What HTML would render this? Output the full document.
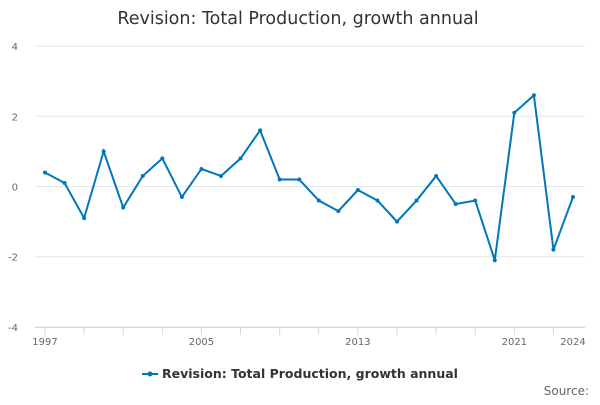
<!DOCTYPE html>
<html><head><meta charset="utf-8"><style>
body{margin:0;background:#fff;}
svg text{font-family:"DejaVu Sans","Liberation Sans",sans-serif;}
</style></head><body>
<svg id="c" width="600" height="400">
<text x="298" y="24" text-anchor="middle" font-size="17.5" fill="#333">Revision: Total Production, growth annual</text>
<g id="grid"></g><g id="xax"></g><g id="plot"></g>
<g>
<line x1="142" y1="374" x2="158" y2="374" stroke="#0077bb" stroke-width="2"/>
<circle cx="150" cy="374" r="2.5" fill="#0077bb"/>
<text x="162" y="378" font-size="12.5" font-weight="bold" fill="#333">Revision: Total Production, growth annual</text>
</g>
<text x="589" y="395" text-anchor="end" font-size="12" fill="#666">Source:</text>
</svg>
<script>
const years=[1997,1998,1999,2000,2001,2002,2003,2004,2005,2006,2007,2008,2009,2010,2011,2012,2013,2014,2015,2016,2017,2018,2019,2020,2021,2022,2023,2024];
const values=[0.4,0.1,-0.9,1.0,-0.6,0.3,0.8,-0.3,0.5,0.3,0.8,1.6,0.2,0.2,-0.4,-0.7,-0.1,-0.4,-1.0,-0.4,0.3,-0.5,-0.4,-2.1,2.1,2.6,-1.8,-0.3];
const yTicks=[-4,-2,0,2,4];
const xLabels=[1997,2005,2013,2021,2024];
const NS="http://www.w3.org/2000/svg";
const x=v=>45+(v-1997)*(528/27);
const y=v=>186.5-v*35.1;
function mk(t,a,p){const e=document.createElementNS(NS,t);for(const k in a)e.setAttribute(k,a[k]);p.appendChild(e);return e;}
const g=document.getElementById('grid'),xa=document.getElementById('xax'),pl=document.getElementById('plot');
yTicks.forEach(t=>{
const l=mk('line',{x1:35,x2:585,y1:y(t),y2:y(t),stroke:'#e6e6e6'},g);


const tx=mk('text',{x:18,y:y(t)+4,'text-anchor':'end','font-size':10,fill:'#666'},g);tx.textContent=t;


});
const ax=mk('line',{x1:35,x2:585,y1:327.5,y2:327.5,stroke:'#ccd6eb'},xa);


for(let yr=1997;yr<=2024;yr+=2){const t=mk('line',{x1:x(yr),x2:x(yr),y1:327,y2:335,stroke:'#ccd6eb'},xa);

}
xLabels.forEach(yr=>{const t=mk('text',{x:x(yr),y:345,'text-anchor':'middle','font-size':10,fill:'#666'},xa);t.textContent=yr;

});
const pts=years.map((yr,i)=>x(yr)+','+y(values[i])).join(' ');
const line=mk('polyline',{points:pts,fill:'none',stroke:'#0077bb','stroke-width':2},pl);


years.forEach((yr,i)=>{const c=mk('circle',{cx:x(yr),cy:y(values[i]),r:2,fill:'#0077bb'},pl);

});
</script>
</body></html>
